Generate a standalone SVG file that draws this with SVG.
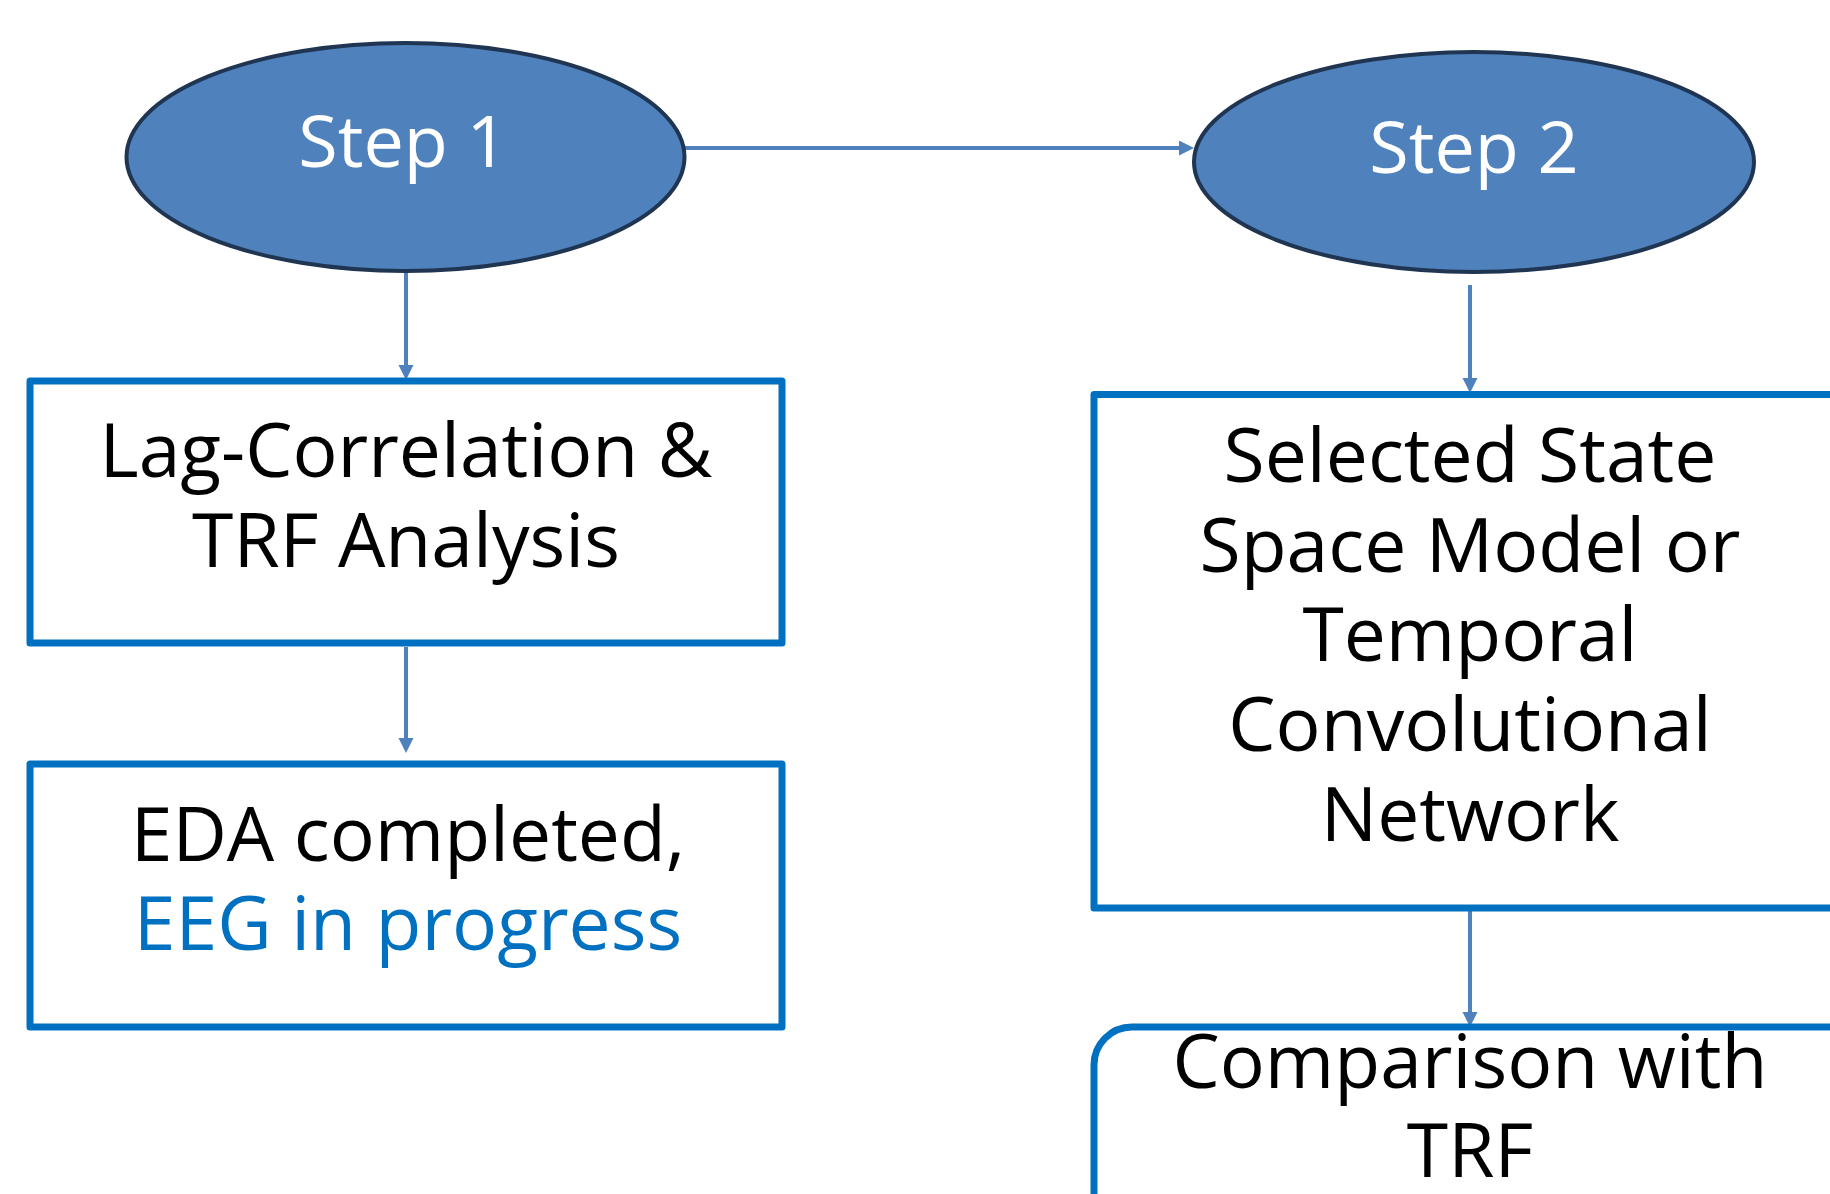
<svg xmlns="http://www.w3.org/2000/svg" width="1830" height="1194" viewBox="0 0 1830 1194">
<style>
.step{fill:#4F81BD;stroke:#1F3552;stroke-width:4}
.box{fill:#FFFFFF;stroke:#0070C0;stroke-width:7;stroke-linejoin:round}
.conn{stroke:#4F81BD;stroke-width:4;fill:none}
.t{font-family:"Open Sans","Noto Sans",sans-serif;text-anchor:middle}
.st{font-size:72px;fill:#FFFFFF}
.bt{font-size:75px;fill:#000000}
.blue{fill:#0070C0}
</style>
<defs>
<marker id="arr" markerUnits="userSpaceOnUse" markerWidth="16" markerHeight="16" refX="0" refY="7.5" orient="auto">
<path d="M0,0 L15,7.5 L0,15 z" fill="#4F81BD"/>
</marker>
</defs>
<rect width="1830" height="1194" fill="#FFFFFF"/>
<g id="connectors">
<path class="conn" d="M685,148 L1179,148" marker-end="url(#arr)"/>
<path class="conn" d="M406,271 L406,365" marker-end="url(#arr)"/>
<path class="conn" d="M406,647 L406,738" marker-end="url(#arr)"/>
<path class="conn" d="M1470,285 L1470,378" marker-end="url(#arr)"/>
<path class="conn" d="M1470,910 L1470,1012" marker-end="url(#arr)"/>
</g>
<g id="step1">
<ellipse class="step" cx="405.5" cy="157" rx="279" ry="114"/>
<text class="t st" x="403" y="167">Step 1</text>
</g>
<g id="step2">
<ellipse class="step" cx="1474" cy="162" rx="280" ry="110"/>
<text class="t st" x="1474" y="173">Step 2</text>
</g>
<g id="lagcorr">
<rect class="box" x="30" y="381" width="752" height="262"/>
<text class="t bt" x="406" y="477">Lag-Correlation &amp;</text>
<text class="t bt" x="406" y="567">TRF Analysis</text>
</g>
<g id="eda">
<rect class="box" x="30" y="764" width="752" height="263"/>
<text class="t bt" x="408" y="861">EDA completed,</text>
<text class="t bt blue" x="408" y="950">EEG in progress</text>
</g>
<g id="ssm">
<rect class="box" x="1094" y="394.5" width="780" height="513.5"/>
<text class="t bt" x="1470" y="482">Selected State</text>
<text class="t bt" x="1470" y="572">Space Model or</text>
<text class="t bt" x="1470" y="661">Temporal</text>
<text class="t bt" x="1470" y="751">Convolutional</text>
<text class="t bt" x="1470" y="841">Network</text>
</g>
<g id="comparison">
<rect class="box" x="1094" y="1027" width="780" height="260" rx="38" ry="38"/>
<text class="t bt" x="1470" y="1088">Comparison with</text>
<text class="t bt" x="1470" y="1177">TRF</text>
</g>
</svg>
